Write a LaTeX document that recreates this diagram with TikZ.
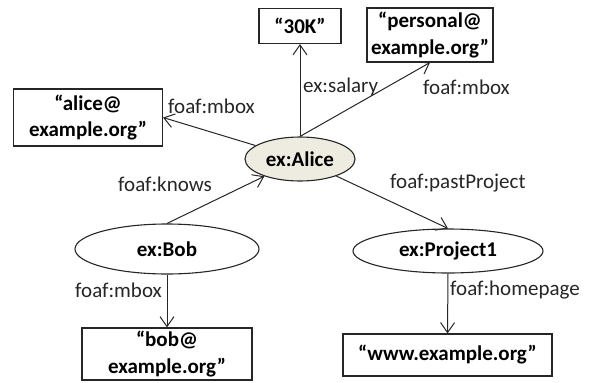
\documentclass[tikz,border=0pt]{standalone}
\usepackage{fontspec}
\setmainfont{Carlito}
\usetikzlibrary{arrows.meta,shapes.geometric}
\definecolor{alicefill}{HTML}{EEECE1}
\definecolor{ink}{HTML}{262626}
\tikzset{
  lit/.style={draw=ink, line width=1.1pt, inner sep=0pt, align=center,
    font=\fontsize{21}{26.5}\selectfont\bfseries, text=black},
  res/.style={ellipse, draw=ink, line width=1.1pt, inner sep=0pt,
    font=\fontsize{21}{25}\selectfont\bfseries, text=black},
  lbl/.style={inner sep=0pt, font=\fontsize{21}{25}\selectfont, text=ink},
  rel/.style={draw=ink, line width=1pt, -{Straight Barb[length=10pt,width=14pt,line width=1pt]}}
}
\begin{document}
\begin{tikzpicture}[x=1pt,y=-1pt]
\useasboundingbox (0,0) rectangle (592,383);
% nodes
\node[res, fill=alicefill, minimum width=110pt, minimum height=44pt] (alice) at (300,159) {ex:Alice};
\node[res, minimum width=184pt, minimum height=50pt] (bob) at (167,249) {ex:Bob};
\node[res, minimum width=190pt, minimum height=44pt] (proj) at (448,251) {ex:Project1};
\node[lit, minimum width=82pt, minimum height=35pt] (k30) at (300,26) {“30K”};
\node[lit, minimum width=126pt, minimum height=54pt] (pers) at (430,35) {“personal@\\example.org”};
\node[lit, minimum width=149pt, minimum height=57pt] (abox) at (88,117.5) {“alice@\\example.org”};
\node[lit, minimum width=170pt, minimum height=52pt] (bbox) at (167,354) {“bob@\\example.org”};
\node[lit, minimum width=209pt, minimum height=42pt] (wbox) at (447.5,355) {“www.example.org”};
% connectors
\draw[rel] (alice.north) -- (k30.south);
\draw[rel] (alice.north) -- (pers.south);
\draw[rel] (alice) -- (abox.east);
\draw[rel] (bob.north) -- (alice);
\draw[rel] (alice) -- (proj.north);
\draw[rel] (bob.south) -- (bbox.north);
\draw[rel] (proj.south) -- (wbox.north);
% labels
\node[lbl, anchor=west] (l1) at (168,106) {foaf:mbox};
\node[lbl, anchor=west] (l2) at (303,87) {ex:salary};
\node[lbl, anchor=west] (l3) at (423,87) {foaf:mbox};
\node[lbl, anchor=west] (l4) at (118,184) {foaf:knows};
\node[lbl, anchor=west] (l5) at (390,183) {foaf:pastProject};
\node[lbl, anchor=west] (l6) at (75,290) {foaf:mbox};
\node[lbl, anchor=west] (l7) at (450,290) {foaf:homepage};
\end{tikzpicture}
\end{document}
